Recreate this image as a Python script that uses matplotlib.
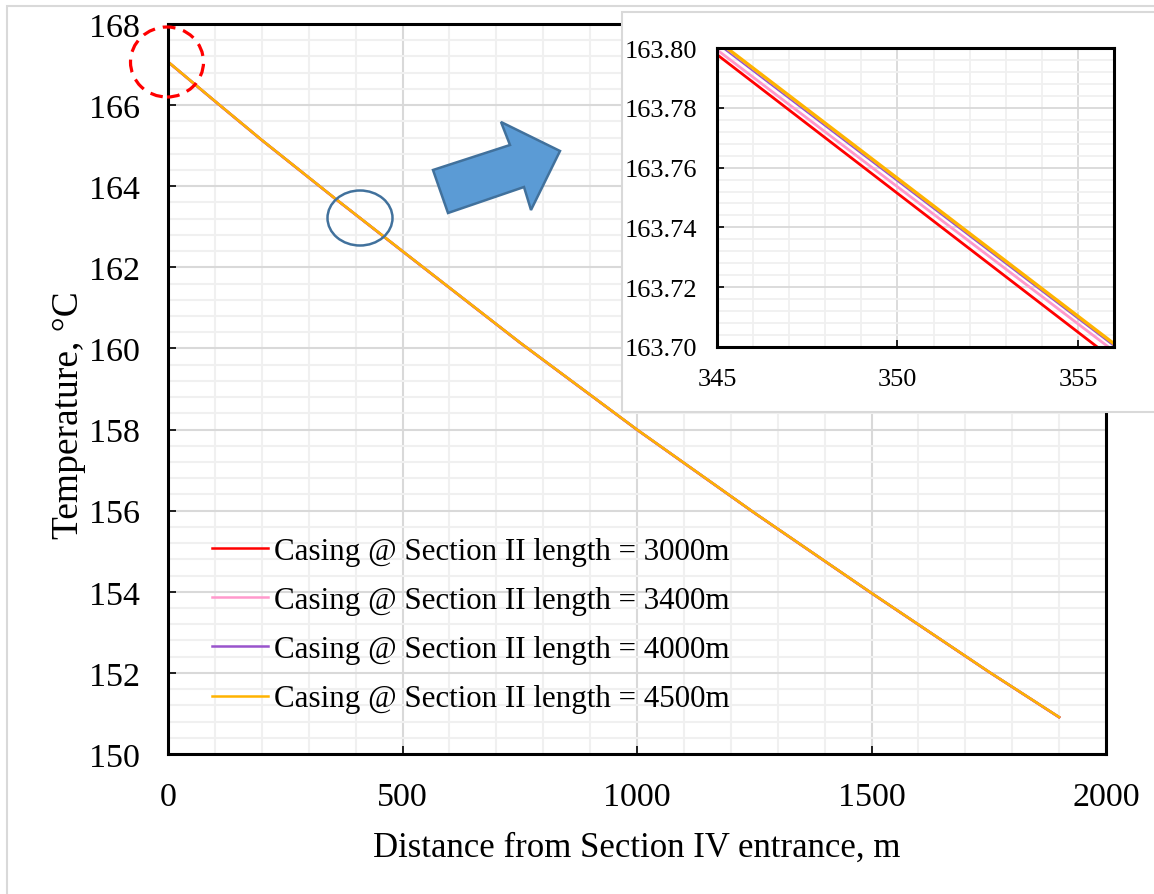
import matplotlib
matplotlib.use("Agg")
import matplotlib.pyplot as plt
from matplotlib.ticker import MultipleLocator, FormatStrFormatter
from matplotlib.patches import Polygon, Ellipse, Rectangle

plt.rcParams['font.family'] = ['Liberation Serif', 'DejaVu Serif']

# data
distance = [0, 100, 200, 345, 356, 500, 750, 1000, 1250, 1500, 1750, 1900]
temp_3000 = [167.065, 166.095, 165.135, 163.7978, 163.6957, 162.395, 160.145, 157.995, 155.945, 153.965, 152.025, 150.905]
temp_3400 = [167.067, 166.097, 165.137, 163.7994, 163.6986, 162.397, 160.147, 157.997, 155.947, 153.967, 152.027, 150.907]
temp_4000 = [167.069, 166.099, 165.139, 163.8015, 163.7003, 162.399, 160.149, 157.999, 155.949, 153.969, 152.029, 150.909]
temp_4500 = [167.070, 166.100, 165.140, 163.8025, 163.7011, 162.400, 160.150, 158.000, 155.950, 153.970, 152.030, 150.910]

labels = ["Casing @ Section II length = 3000m",
          "Casing @ Section II length = 3400m",
          "Casing @ Section II length = 4000m",
          "Casing @ Section II length = 4500m"]
colors = ["#FF0000", "#FF99CC", "#9954CC", "#FFB300"]
series = [temp_3000, temp_3400, temp_4000, temp_4500]

W, H = 1154, 895
fig = plt.figure(figsize=(W / 100, H / 100), dpi=100)


def fx(px):
    return px / W


def fy(py):
    return 1 - py / H


def style_grid(a, lw_major=1.5, lw_minor=1.5):
    a.grid(which='major', color='#D9D9D9', lw=lw_major, zorder=0)
    a.grid(which='minor', color='#F0F0F0', lw=lw_minor, zorder=0)
    a.set_axisbelow(True)
    for s in a.spines.values():
        s.set_linewidth(2.2)
        s.set_color('black')


# main axes
ax = fig.add_axes([fx(168), fy(755), fx(1106) - fx(168), fy(25) - fy(755)])
for y, c, lab in zip(series, colors, labels):
    ax.plot(distance, y, color=c, lw=1.8, label=lab)
ax.set_xlim(0, 2000)
ax.set_ylim(150, 168)
ax.xaxis.set_major_locator(MultipleLocator(500))
ax.xaxis.set_minor_locator(MultipleLocator(100))
ax.yaxis.set_major_locator(MultipleLocator(2))
ax.yaxis.set_minor_locator(MultipleLocator(0.4))
style_grid(ax)
ax.tick_params(which='major', direction='in', length=6, width=1.2, labelsize=24.5)
ax.tick_params(which='minor', length=0)
ax.tick_params(axis='x', pad=20)
ax.tick_params(axis='y', pad=20)
ax.set_xlabel("Distance from Section IV entrance, m", fontsize=25)
ax.set_ylabel("Temperature, \u00b0C", fontsize=27)
ax.xaxis.set_label_coords(0.5, -0.105)
ax.yaxis.set_label_coords(-0.087, 0.466)

ax.legend(loc='upper left', bbox_to_anchor=(fx(212), fy(538)), bbox_transform=fig.transFigure,
          frameon=False, fontsize=22.3, borderpad=0, borderaxespad=0, handlelength=1.8,
          handletextpad=0.2, labelspacing=0.65)

# outer chart border
fig.patches.append(Rectangle((fx(7), -0.1), 1.2, fy(7) + 0.1, transform=fig.transFigure,
                             facecolor='none', edgecolor='#D9D9D9', lw=1.5, zorder=0.5))

# inset background box
fig.patches.append(Rectangle((fx(622), fy(413)), fx(1154) - fx(622) + 0.01, fy(13) - fy(413),
                             transform=fig.transFigure, facecolor='white',
                             edgecolor='#D9D9D9', lw=1.5, zorder=1))

# inset axes
axi = fig.add_axes([fx(717), fy(348), fx(1114) - fx(717), fy(49) - fy(348)], zorder=2)
inset_lw = [2.0, 2.0, 1.2, 2.4]
for y, c, lw in zip(series, colors, inset_lw):
    axi.plot(distance, y, color=c, lw=lw)
axi.set_xlim(345, 356)
axi.set_ylim(163.70, 163.80)
axi.xaxis.set_major_locator(MultipleLocator(5))
axi.xaxis.set_minor_locator(MultipleLocator(1))
axi.yaxis.set_major_locator(MultipleLocator(0.02))
axi.yaxis.set_minor_locator(MultipleLocator(0.004))
axi.yaxis.set_major_formatter(FormatStrFormatter('%.2f'))
style_grid(axi, 1.3, 1.3)
axi.tick_params(which='major', direction='in', length=5, width=1.2, labelsize=19)
axi.tick_params(which='minor', length=0)
axi.tick_params(axis='x', pad=15)
axi.tick_params(axis='y', pad=14)

# callout shapes
arrow_px = [(448, 214), (433, 171), (510, 146), (501, 123), (560, 152), (531, 211), (524, 188)]
fig.patches.append(Polygon([(fx(x), fy(y)) for x, y in arrow_px], closed=True,
                           transform=fig.transFigure, facecolor='#5B9BD5',
                           edgecolor='#41719C', lw=1.8, zorder=3))
fig.patches.append(Ellipse((fx(167), fy(63)), 73 / W, 70 / H, transform=fig.transFigure,
                           facecolor='none', edgecolor='#FF0000', lw=2.3,
                           linestyle=(0, (4, 2.5)), zorder=3))
fig.patches.append(Ellipse((fx(360), fy(219)), 65 / W, 55 / H, transform=fig.transFigure,
                           facecolor='none', edgecolor='#41719C', lw=1.8, zorder=3))

fig.savefig("out.png", dpi=100, facecolor='white')
